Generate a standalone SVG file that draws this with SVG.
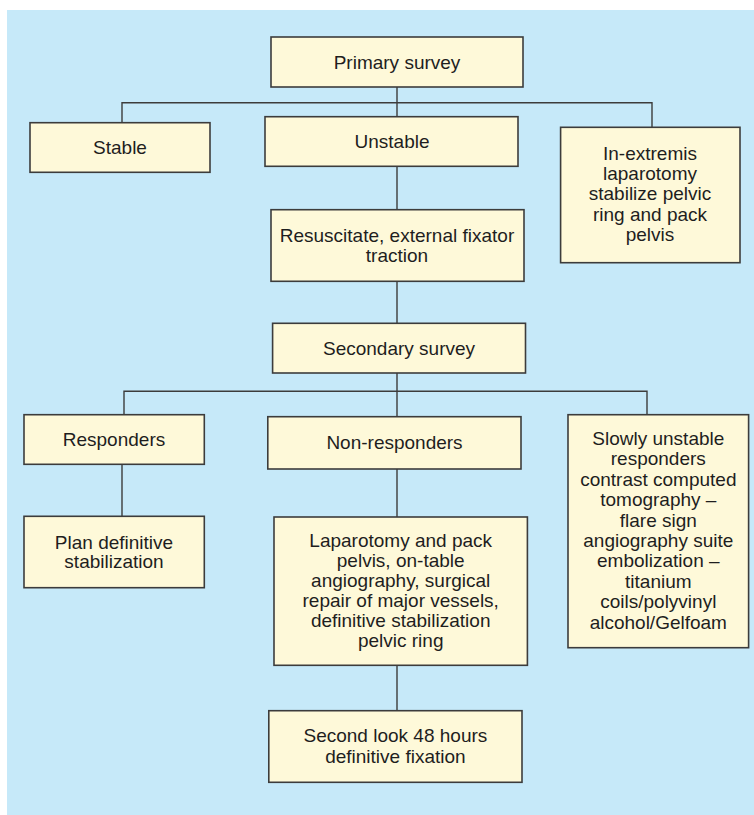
<svg xmlns="http://www.w3.org/2000/svg" width="754" height="815" viewBox="0 0 754 815">
<style>
.bg{fill:#c6e9f9}
.box{fill:#fef9d9;stroke:#3c3c3c;stroke-width:1.6}
.ln{stroke:#3c3c3c;stroke-width:1.4;fill:none}
text{font-family:"Liberation Sans",Arial,sans-serif;font-size:19px;fill:#1e1e1e;text-anchor:middle}
</style>
<rect class="bg" x="7" y="10" width="747" height="805"/>
<g id="connectors">
<path class="ln" d="M397 87V117M122 123V102.7H652V127.3M397 166.3V209.7M397 281.3V323.3M124 414.7V391.3H647V414.7M397 373V416.7M122 464.3V516.3M397 469V517M397 665.3V710.7"/>
</g>
<g id="primary"><rect class="box" x="271" y="37" width="252" height="50"/><text x="397" y="68.5">Primary survey</text></g>
<g id="stable"><rect class="box" x="30" y="122.7" width="180" height="49.6"/><text x="120" y="154.3">Stable</text></g>
<g id="unstable"><rect class="box" x="265" y="116.7" width="253" height="49.6"/><text x="392" y="148">Unstable</text></g>
<g id="inextremis"><rect class="box" x="560.6" y="127.3" width="179.4" height="135.4"/><text x="650" y="160"><tspan x="650" y="160">In-extremis</tspan><tspan x="650" y="180">laparotomy</tspan><tspan x="650" y="200">stabilize pelvic</tspan><tspan x="650" y="220.5">ring and pack</tspan><tspan x="650" y="240.5">pelvis</tspan></text></g>
<g id="resuscitate"><rect class="box" x="271" y="209.7" width="253" height="71.6"/><text><tspan x="397" y="241.7">Resuscitate, external fixator</tspan><tspan x="397" y="261.7">traction</tspan></text></g>
<g id="secondary"><rect class="box" x="272.6" y="323.3" width="252.9" height="49.7"/><text x="399" y="355">Secondary survey</text></g>
<g id="responders"><rect class="box" x="24" y="414.7" width="180.3" height="49.6"/><text x="114" y="445.7">Responders</text></g>
<g id="nonresponders"><rect class="box" x="267.8" y="416.7" width="253.2" height="52.3"/><text x="394.5" y="449">Non-responders</text></g>
<g id="slowly"><rect class="box" x="568" y="414.7" width="180.6" height="233"/><text><tspan x="658.3" y="445">Slowly unstable</tspan><tspan x="658.3" y="465.4">responders</tspan><tspan x="658.3" y="485.8">contrast computed</tspan><tspan x="658.3" y="506.2">tomography –</tspan><tspan x="658.3" y="526.6">flare sign</tspan><tspan x="658.3" y="547">angiography suite</tspan><tspan x="658.3" y="567.4">embolization –</tspan><tspan x="658.3" y="587.8">titanium</tspan><tspan x="658.3" y="608.2">coils/polyvinyl</tspan><tspan x="658.3" y="628.6">alcohol/Gelfoam</tspan></text></g>
<g id="plan"><rect class="box" x="24" y="516.3" width="180.3" height="71.4"/><text><tspan x="114" y="548.5">Plan definitive</tspan><tspan x="114" y="568">stabilization</tspan></text></g>
<g id="laparotomy"><rect class="box" x="274" y="517" width="253.4" height="148.3"/><text><tspan x="400.7" y="546.7">Laparotomy and pack</tspan><tspan x="400.7" y="566.8">pelvis, on-table</tspan><tspan x="400.7" y="586.9">angiography, surgical</tspan><tspan x="400.7" y="607">repair of major vessels,</tspan><tspan x="400.7" y="627.1">definitive stabilization</tspan><tspan x="400.7" y="647.2">pelvic ring</tspan></text></g>
<g id="secondlook"><rect class="box" x="268.8" y="710.7" width="253.2" height="71.6"/><text><tspan x="395.4" y="742">Second look 48 hours</tspan><tspan x="395.4" y="762.5">definitive fixation</tspan></text></g>
</svg>
